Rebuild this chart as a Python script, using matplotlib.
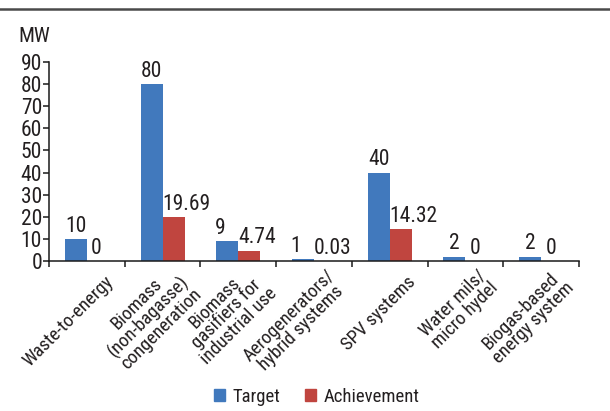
import matplotlib
matplotlib.use("Agg")
import matplotlib.pyplot as plt
from matplotlib.lines import Line2D
from matplotlib.patches import Patch
from matplotlib import font_manager
from matplotlib.transforms import blended_transform_factory, offset_copy
import numpy as np

# ---- data ----
categories = [
    "Waste-to-energy",
    "Biomass\n(non-bagasse)\ncongeneration",
    "Biomass\ngasifiers for\nindustrial use",
    "Aerogenerators/\nhybrid systems",
    "SPV systems",
    "Water mils/\nmicro hydel",
    "Biogas-based\nenergy system",
]
target = [10, 80, 9, 1, 40, 2, 2]
achievement = [0, 19.69, 4.74, 0.03, 14.32, 0, 0]
target_labels = ["10", "80", "9", "1", "40", "2", "2"]
achievement_labels = ["0", "19.69", "4.74", "0.03", "14.32", "0", "0"]
yticks = [0, 10, 20, 30, 40, 50, 60, 70, 80, 90]

# ---- style ----
available = {f.name for f in font_manager.fontManager.ttflist}
family = next((f for f in ["Liberation Sans Narrow", "Roboto Condensed",
                           "Roboto", "Liberation Sans"] if f in available),
              "DejaVu Sans")
plt.rcParams["font.family"] = [family, "DejaVu Sans"]
text_color = "#231f20"
blue = "#4179bd"
red = "#c0453f"

fig = plt.figure(figsize=(6.10, 4.11), dpi=100)
ax = fig.add_axes([49 / 610, 1 - 261 / 411, 530 / 610, 199 / 411])

x = np.arange(len(categories))
w = 0.29
ax.bar(x - w / 2, target, width=w, color=blue, label="Target")
ax.bar(x + w / 2, achievement, width=w, color=red, label="Achievement")

ax.set_xlim(-0.5, len(categories) - 0.5)
ax.set_ylim(0, 90)
ax.set_yticks(yticks)
ax.set_yticklabels([str(v) for v in yticks])
ax.set_xticks(np.arange(-0.5, len(categories), 1.0))
ax.set_xticklabels([])

for s in ["top", "right"]:
    ax.spines[s].set_visible(False)
for s in ["left", "bottom"]:
    ax.spines[s].set_color("#1a1a1a")
    ax.spines[s].set_linewidth(1.1)
ax.tick_params(axis="y", direction="out", length=4, width=1.1,
               labelsize=15.5, colors="#1a1a1a", labelcolor=text_color, pad=1)
ax.tick_params(axis="x", direction="out", length=4, width=1.1, colors="#1a1a1a")

# value labels
for i in range(len(categories)):
    tl, al = target_labels[i], achievement_labels[i]
    dx = -5 if (len(tl) == 1 and len(al) > 1) else 0
    ax.annotate(tl, (x[i] - w / 2, target[i]), xytext=(dx, 1.5),
                textcoords="offset points", ha="center", va="bottom",
                fontsize=15.5, color=text_color)
    if len(al) > 1:
        ax.annotate(al, (x[i], achievement[i]), xytext=(0, 1.5),
                    textcoords="offset points", ha="left", va="bottom",
                    fontsize=15.5, color=text_color)
    else:
        ax.annotate(al, (x[i] + w / 2, achievement[i]), xytext=(-1, 1.5),
                    textcoords="offset points", ha="center", va="bottom",
                    fontsize=15.5, color=text_color)

# rotated category labels
trans = blended_transform_factory(ax.transData, ax.transAxes)
trans = offset_copy(trans, fig=fig, x=17, y=-13, units="points")
for i, name in enumerate(categories):
    ax.text(x[i], 0, name, transform=trans, rotation=45,
            rotation_mode="anchor", ha="right", va="center",
            multialignment="center", fontsize=13.5, color=text_color,
            linespacing=0.92)

# unit label
fig.text(18 / 610, 1 - 36 / 411, "MW", ha="left", va="center",
         fontsize=15, color=text_color)

# rule across the top
fig.add_artist(Line2D([0, 1], [1 - 9 / 411, 1 - 9 / 411],
                      transform=fig.transFigure, color="#4a4a4a", lw=1.8))

handles = [Patch(color=blue, label="Target"),
           Patch(color=red, label="Achievement")]
fig.legend(handles=handles, loc="center", ncol=2, frameon=False,
           bbox_to_anchor=(317 / 610, 1 - 397 / 411), fontsize=13.5,
           handlelength=0.6, handleheight=0.6, handletextpad=0.4,
           columnspacing=1.3, labelcolor=text_color)

fig.savefig("out.png", dpi=100)
